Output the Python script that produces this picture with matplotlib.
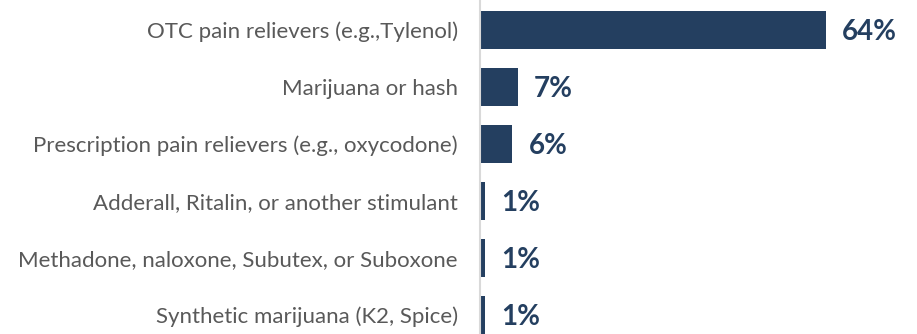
import matplotlib
matplotlib.use("Agg")
import matplotlib.pyplot as plt
import numpy as np

categories = [
    "OTC pain relievers (e.g.,Tylenol)",
    "Marijuana or hash",
    "Prescription pain relievers (e.g., oxycodone)",
    "Adderall, Ritalin, or another stimulant",
    "Methadone, naloxone, Subutex, or Suboxone",
    "Synthetic marijuana (K2, Spice)",
]
values = [64, 7, 6, 1, 1, 1]

navy = "#243F60"
grey_text = "#595959"

plt.rcParams["font.family"] = ["Lato", "DejaVu Sans"]

fig = plt.figure(figsize=(9.17, 3.34), dpi=100)
ax = fig.add_axes([0.5234, 0.0, 0.413, 1.0])

pos = np.arange(len(categories))
ax.barh(pos, values, height=0.667, color=navy)

ax.set_xlim(0, 70)
ax.set_ylim(5.333, -0.526)

for p, v in zip(pos, values):
    ax.annotate(f"{v}%", xy=(v, p), xytext=(11.5, -1.5), textcoords="offset points",
                ha="left", va="center", fontsize=20, fontweight="bold", color=navy)

ax.set_yticks(pos)
ax.set_yticklabels(categories, fontsize=16, color=grey_text)
ax.tick_params(axis="y", length=0, pad=16)
ax.set_xticks([])

for s in ["top", "right", "bottom"]:
    ax.spines[s].set_visible(False)
ax.spines["left"].set_color("#D9D9D9")
ax.spines["left"].set_linewidth(1.5)

fig.savefig("out.png", dpi=100)
